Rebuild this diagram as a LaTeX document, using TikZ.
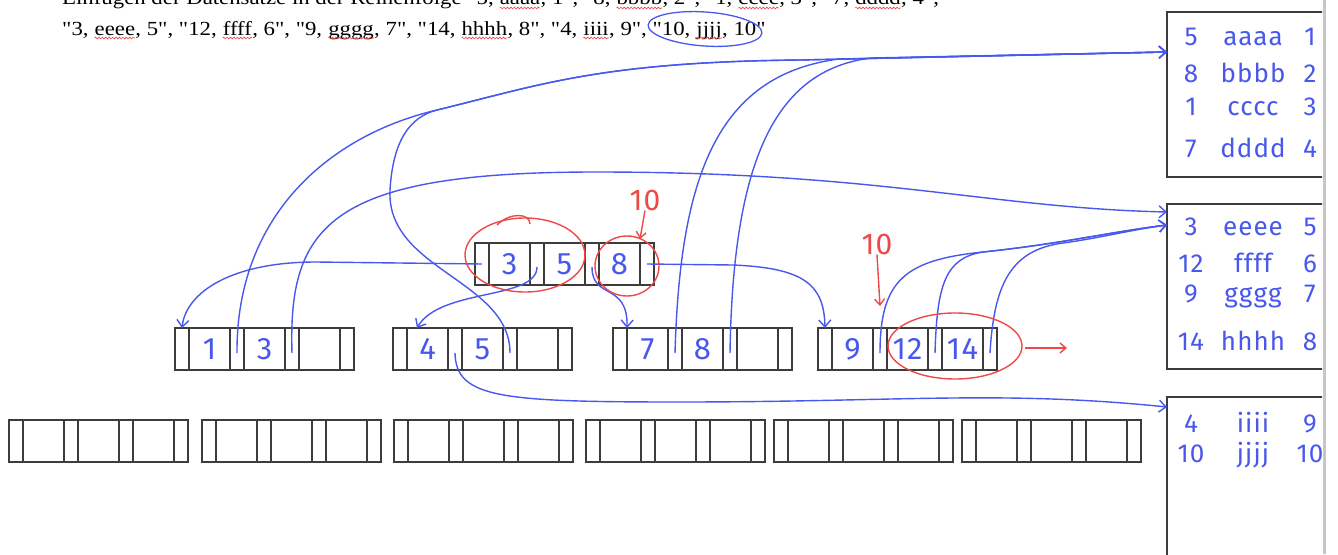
\documentclass[tikz,border=0pt]{standalone}
\usepackage{fontspec}
\usepackage{graphicx}
\usepackage{tikz}
\usetikzlibrary{positioning,arrows.meta,decorations.pathmorphing}
\setmainfont{Liberation Serif}[Ligatures=TeXOff]
\newfontfamily\handfont[LetterSpace=4]{Fira Sans}

\definecolor{penblue}{RGB}{72,88,236}
\definecolor{penred}{RGB}{238,72,72}
\definecolor{boxgray}{RGB}{60,60,60}

% red wavy underline of the spell checker
\newcommand{\spellerr}[1]{\tikz[baseline=(sp.base)]{\node[inner sep=0pt, outer sep=0pt] (sp) {#1};
  \draw[penred, line width=0.6pt, decorate, decoration={zigzag, amplitude=0.9pt, segment length=3pt}] ([yshift=-3pt]sp.base west) -- ([yshift=-3pt]sp.base east);}}

\tikzset{
  ptrcell/.style={draw=boxgray, line width=1.1pt, minimum width=14pt, minimum height=42pt, inner sep=0pt, outer sep=0pt},
  keycell/.style={ptrcell, minimum width=41pt, text=penblue, font=\handfont\fontsize{31}{31}\selectfont},
  link/.style={draw=penblue, line width=1.4pt, -{Straight Barb[length=7pt,width=12pt]}},
  redpen/.style={draw=penred, line width=1.4pt},
  redtip/.style={redpen, -{Straight Barb[length=6pt,width=10pt]}},
  page/.style={draw=boxgray, line width=1.2pt, minimum width=170pt, inner sep=0pt, outer sep=0pt, anchor=north west},
  rec/.style={text=penblue, font=\handfont\fontsize{26}{26}\selectfont, anchor=base, inner sep=0pt},
  note/.style={text=penred, font=\handfont\fontsize{30}{30}\selectfont, inner sep=0pt},
}

% B+-tree node: name, top left corner, three keys
\newcommand{\bnode}[5]{%
  \node[ptrcell, anchor=north west] (#1-p0) at (#2) {};
  \node[keycell, right=0pt of #1-p0] (#1-k1) {#3};
  \node[ptrcell, right=0pt of #1-k1] (#1-p1) {};
  \node[keycell, right=0pt of #1-p1] (#1-k2) {#4};
  \node[ptrcell, right=0pt of #1-k2] (#1-p2) {};
  \node[keycell, right=0pt of #1-p2] (#1-k3) {#5};
  \node[ptrcell, right=0pt of #1-k3] (#1-p3) {};
}

\begin{document}
\begin{tikzpicture}[x=1pt, y=-1pt]
\useasboundingbox (0,0) rectangle (1338,554);
\clip (0,0) rectangle (1338,554);

% Aufgabe
\node[anchor=base west, inner sep=0pt] (line1) at (62,5) {\fontsize{20}{24}\selectfont\scalebox{1.14}[1]{Einfügen der Datensätze in der Reihenfolge "5, \spellerr{aaaa}, 1", "8, \spellerr{bbbb}, 2", "1, \spellerr{cccc}, 3", "7, \spellerr{dddd}, 4",}};
\node[anchor=base west, inner sep=0pt] (line2) at (62,35) {\fontsize{20}{24}\selectfont\scalebox{1.14}[1]{"3, \spellerr{eeee}, 5", "12, \spellerr{ffff}, 6", "9, \spellerr{gggg}, 7", "14, \spellerr{hhhh}, 8", "4, \spellerr{iiii}, 9", "10, \spellerr{jjjj}, 10"}};
\draw[draw=penblue, line width=1.3pt, rotate around={-4:(705,29)}] (705,29) ellipse [x radius=57, y radius=17];

% Baum
\bnode{root}{475,243}{3}{5}{8}
\bnode{leaf1}{175,328}{1}{3}{}
\bnode{leaf2}{393,328}{4}{5}{}
\bnode{leaf3}{613,328}{7}{8}{}
\bnode{leaf4}{818,328}{9}{12}{14}
\foreach \x [count=\i] in {9,202,394,586,774,962}
  \bnode{bot\i}{\x,420}{}{}{};

% Datenseiten
\begin{scope}
\clip (1150,0) rectangle (1322,554);
\node[page, minimum height=165pt] (page1) at (1167,12) {};
\node[page, minimum height=165pt] (page2) at (1167,204) {};
\node[page, minimum height=170pt] (page3) at (1167,397) {};
\foreach \l/\w/\r/\y in {5/aaaa/1/45, 8/bbbb/2/82, 1/cccc/3/115, 7/dddd/4/157,
    3/eeee/5/235, 12/ffff/6/272, 9/gggg/7/302, 14/hhhh/8/350,
    4/iiii/9/432, 10/jjjj/10/462} {
  \node[rec] (rec\y-a) at (1191,\y) {\l};
  \node[rec] (rec\y-b) at (1253,\y) {\w};
  \node[rec] (rec\y-c) at (1310,\y) {\r};
}
\end{scope}
\draw[gray!45, line width=3pt] (1324,0) -- (1324,554);
\coordinate (page1-in) at (1167,52);
\coordinate (page2-in1) at (1167,212);
\coordinate (page2-in2) at (1167,225);
\coordinate (page3-in) at (1167,407);

% Zeiger der Wurzel
\draw[link] (root-p0.center) -- (316,262) .. controls (232,262) and (186,292) .. (leaf1-p0.north);
\draw[link] ([yshift=-3pt]root-p1.center) .. controls (537,300) and (440,288) .. ([xshift=10pt]leaf2-p0.north east);
\draw[link] ([yshift=-3pt]root-p2.center) .. controls (592,300) and (628,282) .. (leaf3-p0.north east);
\draw[link] (root-p3.center) -- (733,265) .. controls (805,268) and (824,285) .. (leaf4-p0.north);

% Zeiger auf die Datensaetze
\draw[link] ([yshift=-4pt]leaf1-p1.center) .. controls (236,215) and (330,135) .. (437,110) .. controls (540,85) and (600,62) .. (800,60) -- (page1-in);
\draw[link] ([yshift=-4pt]leaf2-p2.center) .. controls (510,280) and (386,270) .. (390,190) .. controls (393,140) and (410,117) .. (437,110) .. controls (540,85) and (600,62) .. (800,60) -- (page1-in);
\draw[link] ([yshift=-4pt]leaf3-p1.center) .. controls (680,180) and (715,75) .. (839,59) -- (page1-in);
\draw[link] ([yshift=-4pt]leaf3-p2.center) .. controls (733,160) and (775,70) .. (871,58) -- (page1-in);
\draw[link] ([yshift=-4pt]leaf1-p2.center) .. controls (288,225) and (330,172) .. (596,172) .. controls (880,172) and (990,208) .. (page2-in1);
\draw[link] ([yshift=-4pt]leaf4-p1.center) .. controls (880,280) and (905,260) .. (983,252) .. controls (1060,244) and (1110,232) .. (page2-in2);
\draw[link] ([yshift=-4pt]leaf4-p2.center) .. controls (937,285) and (945,258) .. (983,252) .. controls (1060,244) and (1110,232) .. (page2-in2);
\draw[link] ([yshift=-4pt]leaf4-p3.center) .. controls (994,285) and (1010,250) .. (1063,243) .. controls (1100,238) and (1130,230) .. (page2-in2);
\draw[link] ([yshift=-4pt]leaf2-p1.center) .. controls (456,398) and (500,402) .. (680,402) .. controls (900,402) and (1000,390) .. (page3-in);

% Einfuegen von 10 (rot)
\draw[redpen] (525,255) ellipse [x radius=60, y radius=37];
\draw[redpen] (497,225) .. controls (510,212) and (530,213) .. (530,224);
\draw[redpen] (627,266) ellipse [x radius=32, y radius=30];
\node[note] (note10a) at (645,200) {10};
\draw[redtip] (note10a.south) -- ([yshift=4pt]root-k3.north east);
\node[note] (note10b) at (877,244) {10};
\draw[redtip] (note10b.south) -- ([yshift=22pt]leaf4-p1.north);
\draw[redpen] (955,346) ellipse [x radius=67, y radius=33];
\coordinate (split) at (1067,348);
\draw[redtip] (1025,348) -- (split);
\end{tikzpicture}
\end{document}
